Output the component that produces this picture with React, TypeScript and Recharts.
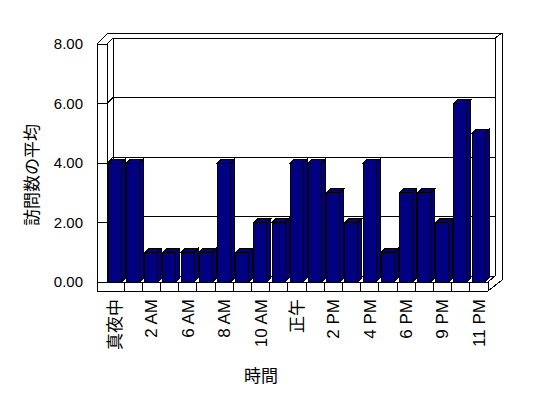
import { BarChart, Bar, XAxis, YAxis, CartesianGrid, ReferenceArea } from 'recharts';

// hour buckets, only every other one gets a label on the axis
const HOURS = [
  '真夜中', '1 AM', '2 AM', '5 AM', '6 AM', '7 AM', '8 AM', '9 AM', '10 AM', '11 AM', '正午',
  '1 PM', '2 PM', '3 PM', '4 PM', '5 PM', '6 PM', '8 PM', '9 PM', '10 PM', '11 PM',
];
const AVG_VISITS = [4, 4, 1, 1, 1, 1, 4, 1, 2, 2, 4, 4, 3, 2, 4, 1, 3, 3, 2, 6, 5];
const Y_TICKS = [0, 2, 4, 6, 8];

const data = HOURS.map((hour, i) => ({ hour, visits: AVG_VISITS[i] }));

const FONT = '"Liberation Sans", Arial, "Noto Sans CJK JP", sans-serif';
const NAVY = '#000080';
const BAR_DEPTH = 4;
// old-school 3d frame: back wall offset, left wall + floor thickness
const BACK = { dx: 6, dy: -6 };
const SIDE = 10;
const FLOOR = 9;

function Bar3D(props: any) {
  const { x, y, width, height } = props;
  if (!height || height <= 0) return null;
  const d = BAR_DEPTH;
  return (
    <g stroke="#000" strokeWidth={1} fill={NAVY} shapeRendering="crispEdges">
      <polygon points={`${x},${y} ${x + d},${y - d} ${x + width + d},${y - d} ${x + width},${y}`} />
      <polygon
        points={`${x + width},${y} ${x + width + d},${y - d} ${x + width + d},${y + height - d} ${x + width},${y + height}`}
      />
      <rect x={x} y={y} width={width} height={height} />
    </g>
  );
}

// each value line runs across the left wall and along the back wall
function GridLine3D(props: any) {
  const { x1, y1, x2 } = props;
  const pts = [
    [x1 - SIDE + 1, y1],
    [x1 + 1, y1],
    [x1 + BACK.dx + 1, y1 + BACK.dy],
    [x2 + BACK.dx + 1, y1 + BACK.dy],
  ];
  return (
    <polyline
      points={pts.map(p => p.join(',')).join(' ')}
      fill="none"
      stroke="#000"
      strokeWidth={1}
      shapeRendering="crispEdges"
    />
  );
}

function Frame3D(props: any) {
  const { x, y, width, height } = props;
  const L = x + 1;
  const R = x + width;
  const T = y;
  const B = y + height;
  const outL = L - SIDE;
  const outTop = T + BACK.dy - 5;
  const outR = R + BACK.dx * 2 + 2;
  const lines: number[][][] = [
    // left wall
    [[outL, T], [outL, B + FLOOR]],
    [[L, T], [L, B]],
    [[outL, T], [L, T]],
    [[outL, T], [L + 1, outTop], [outR, outTop]],
    [[L + BACK.dx, T + BACK.dy], [L + BACK.dx, B + BACK.dy]],
    // right side of back wall
    [[outR, outTop], [R + BACK.dx + 1, T + BACK.dy]],
    [[R + BACK.dx + 1, T + BACK.dy], [R + BACK.dx + 1, B + BACK.dy]],
    [[outR, outTop], [outR, B - 2]],
    [[outR, B - 2], [R, B + FLOOR]],
    // floor
    [[outL, B + FLOOR], [R, B + FLOOR]],
    [[L, B], [R, B]],
    [[R, B], [R, B + FLOOR]],
    [[R, B], [R + BACK.dx + 1, B + BACK.dy]],
  ];
  return (
    <g fill="none" stroke="#000" strokeWidth={1} shapeRendering="crispEdges">
      {lines.map((pts, i) => (
        <polyline key={i} points={pts.map(p => p.join(',')).join(' ')} />
      ))}
    </g>
  );
}

function ValueTick(props: any) {
  const { x, y, payload } = props;
  return (
    <text x={x - 23} y={y} dy="0.35em" textAnchor="end" fontSize={15} fontFamily={FONT} fill="#000">
      {Number(payload.value).toFixed(2)}
    </text>
  );
}

function HourTick(props: any) {
  const { x, y, payload, index } = props;
  const half = payload.offset || 9;
  const sx = x + half;
  return (
    <g>
      <line x1={sx} y1={y} x2={sx} y2={y + FLOOR} stroke="#000" strokeWidth={1} shapeRendering="crispEdges" />
      {index % 2 === 0 && (
        <text
          x={x}
          y={y + 17}
          dy="0.35em"
          textAnchor="end"
          transform={`rotate(-90, ${x}, ${y + 17})`}
          fontSize={17}
          fontFamily={FONT}
          fill="#000"
        >
          {payload.value}
        </text>
      )}
    </g>
  );
}

function YTitle(props: any) {
  const vb = props.viewBox || { x: 6, y: 44, width: 100, height: 238 };
  const cx = vb.x + 26;
  const cy = vb.y + vb.height / 2 + 12;
  return (
    <text
      x={cx}
      y={cy}
      dy="0.35em"
      textAnchor="middle"
      transform={`rotate(-90, ${cx}, ${cy})`}
      fontSize={17}
      fontFamily={FONT}
      fill="#000"
    >
      訪問数の平均
    </text>
  );
}

function XTitle(props: any) {
  const vb = props.viewBox || { x: 106, y: 282, width: 382, height: 100 };
  return (
    <text
      x={vb.x + vb.width / 2 - 36}
      y={376}
      dy="0.35em"
      textAnchor="middle"
      fontSize={17}
      fontFamily={FONT}
      fill="#000"
    >
      時間
    </text>
  );
}

export default function App() {
  return (
    <div style={{ position: 'absolute', left: 0, top: 0, width: 548, height: 398, background: '#fff' }}>
      <BarChart
        width={548}
        height={398}
        data={data}
        margin={{ top: 44, right: 60, bottom: 16, left: 6 }}
        barCategoryGap="13%"
        style={{ fontFamily: FONT }}
      >
        <CartesianGrid vertical={false} horizontal={GridLine3D} />
        <ReferenceArea y1={0} y2={8} shape={Frame3D} ifOverflow="visible" zIndex={-50} />
        <XAxis
          dataKey="hour"
          height={100}
          interval={0}
          axisLine={false}
          tickLine={false}
          tickSize={0}
          tickMargin={0}
          tick={<HourTick />}
          label={<XTitle />}
        />
        <YAxis
          width={100}
          domain={[0, 8]}
          ticks={Y_TICKS}
          axisLine={false}
          tickLine={false}
          tickSize={0}
          tickMargin={0}
          tick={<ValueTick />}
          label={<YTitle />}
        />
        <Bar dataKey="visits" shape={Bar3D} isAnimationActive={false} />
      </BarChart>
    </div>
  );
}
